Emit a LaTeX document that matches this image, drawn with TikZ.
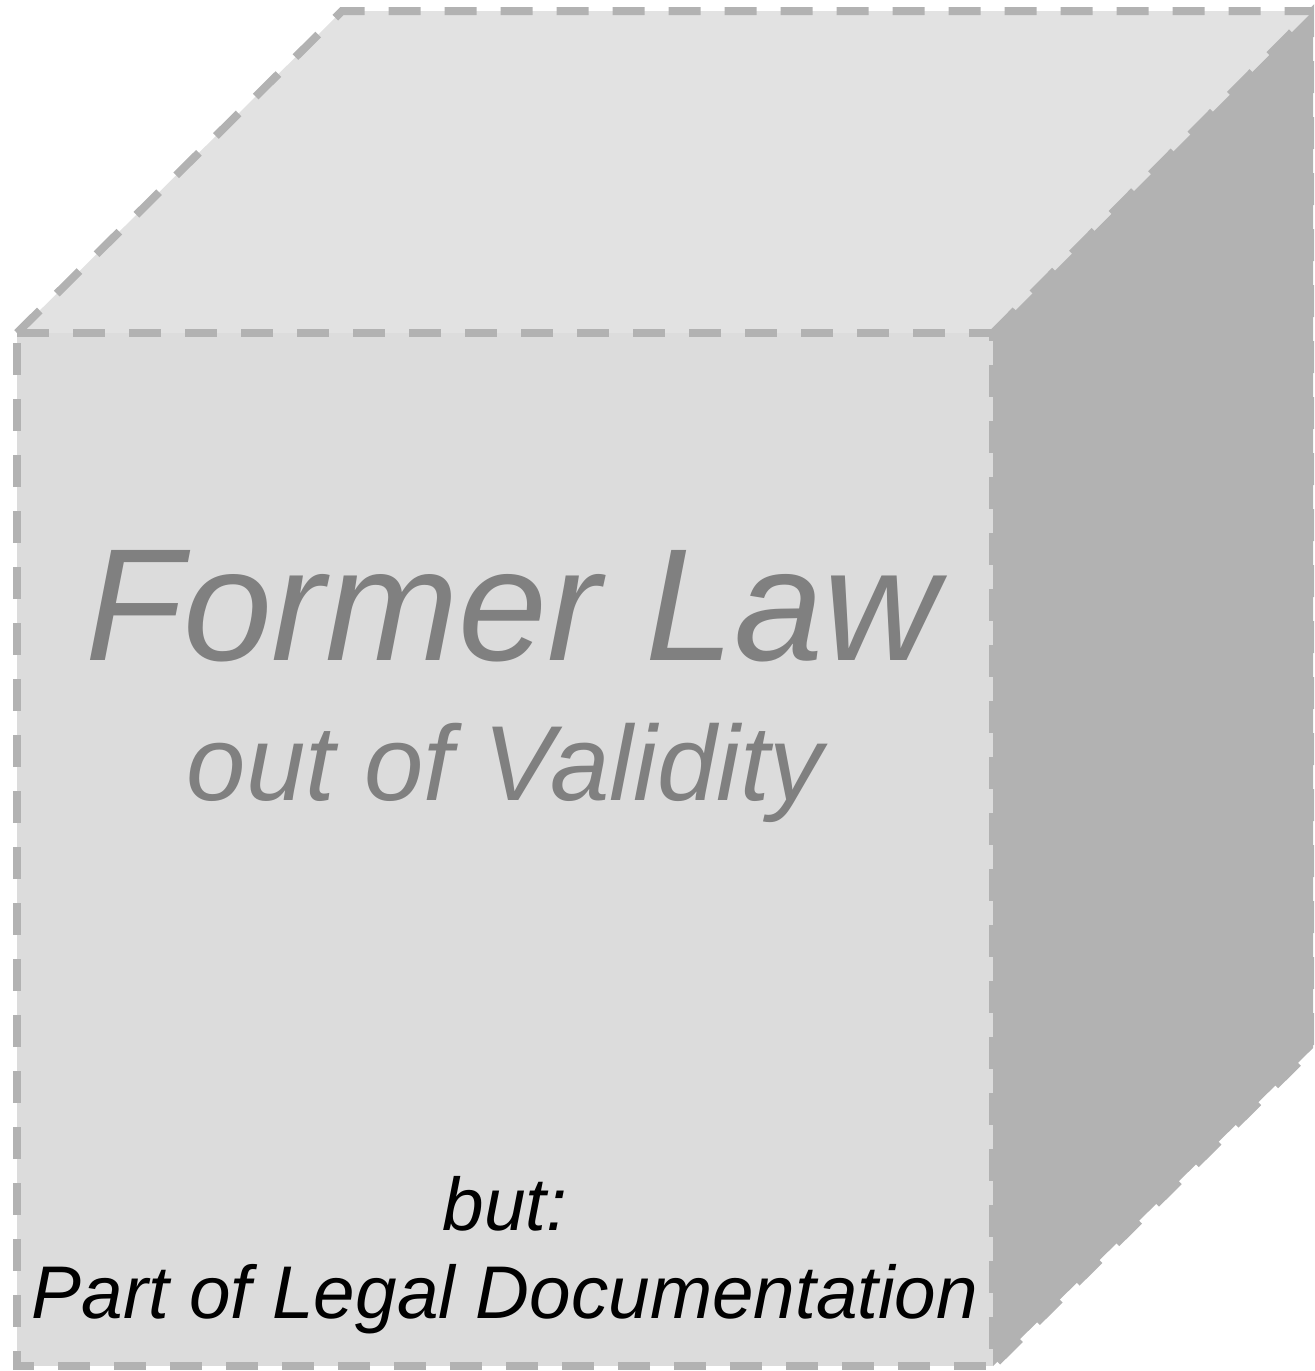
\documentclass[tikz,border=0pt]{standalone}
\usepackage{fontspec}
\setmainfont{Liberation Sans}
\begin{document}
\begin{tikzpicture}[x=0.75pt,y=-0.75pt,
  edge/.style={draw=edgegray,line width=6pt,dash pattern=on 24pt off 18pt},
  bigtxt/.style={font=\itshape\fontsize{120pt}{120pt}\selectfont,text=txtgray,anchor=base},
  midtxt/.style={font=\itshape\fontsize{80pt}{80pt}\selectfont,text=txtgray,anchor=base},
  smalltxt/.style={font=\itshape\fontsize{56pt}{56pt}\selectfont,text=black,anchor=base}]
\definecolor{edgegray}{HTML}{B2B2B2}
\definecolor{topgray}{HTML}{E2E2E2}
\definecolor{frontgray}{HTML}{DCDCDC}
\definecolor{sidegray}{HTML}{B2B2B2}
\definecolor{txtgray}{HTML}{808080}
\useasboundingbox (0,0) rectangle (1314,1371);
\begin{scope}
\clip (0,0) rectangle (1314,1371);
\coordinate (fl) at (17,333);
\coordinate (fr) at (993,333);
\coordinate (br) at (993,1366);
\coordinate (bl) at (17,1366);
\coordinate (tl) at (342,11);
\coordinate (tr) at (1313,11);
\coordinate (rb) at (1313,1048);
\fill[topgray] (fl) -- (tl) -- (tr) -- (fr) -- cycle;
\fill[sidegray] (fr) -- (tr) -- (rb) -- (br) -- cycle;
\draw[edge,fill=frontgray] (fl) -- (fr) -- (br) -- (bl) -- cycle;
\draw[edge] (fl) -- (tl) -- (tr);
\draw[draw=sidegray,line width=6pt,dash pattern=on 24pt off 18pt] (fr) -- (tr) -- (rb) -- (br);
\end{scope}
\node[bigtxt] (t1) at (512,660) {Former Law};
\node[midtxt] (t2) at (505,800) {out of Validity};
\node[smalltxt] (t3) at (505,1230) {but:};
\node[smalltxt] (t4) at (505,1318) {Part of Legal Documentation};
\end{tikzpicture}
\end{document}
